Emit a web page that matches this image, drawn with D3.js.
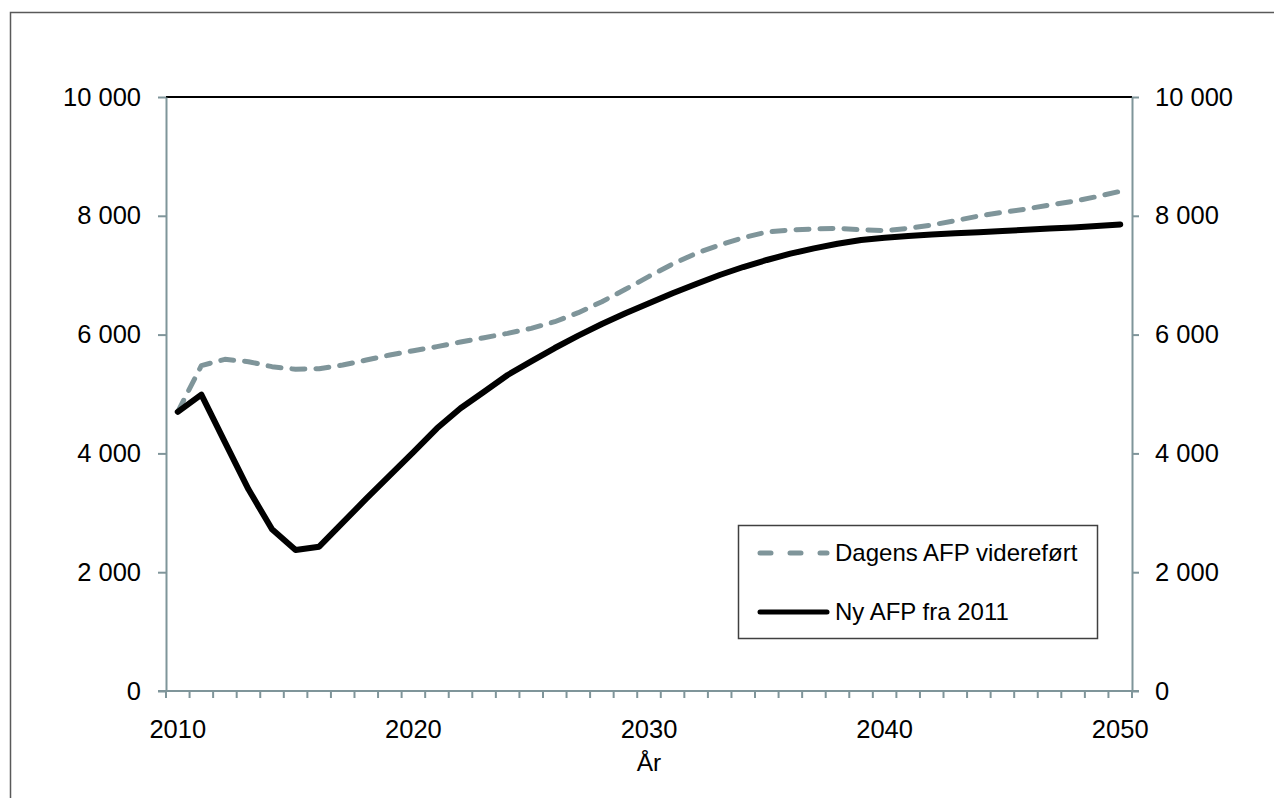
<!DOCTYPE html>
<html>
<head>
<meta charset="utf-8">
<script src="https://cdn.jsdelivr.net/npm/d3@7"></script>
<style>
    body { margin: 0; background: #fff; }
    text { font-family: "Liberation Sans", Arial, sans-serif; fill: #000; }
</style>
</head>
<body>
<div id="chart"></div>
<script>
// categories (one per year)
var years = d3.range(2010, 2051);

// Dagens AFP videreført (grey dashed)
var dagensAfp = [4700, 5477, 5584, 5544, 5460, 5416, 5426, 5488, 5572, 5657,
    5728, 5797, 5875, 5948, 6021, 6105, 6217, 6369, 6554, 6762,
    6980, 7188, 7368, 7508, 7632, 7727, 7761, 7778, 7789, 7765,
    7750, 7789, 7845, 7918, 7997, 8058, 8114, 8182, 8244, 8322,
    8412];

// Ny AFP fra 2011 (black)
var nyAfp = [4700, 4990, 4190, 3395, 2722, 2374, 2430, 2833, 3238, 3631,
    4020, 4422, 4759, 5039, 5320, 5550, 5774, 5982, 6178, 6358,
    6526, 6695, 6852, 7003, 7138, 7256, 7362, 7452, 7530, 7593,
    7630, 7660, 7685, 7705, 7725, 7745, 7765, 7785, 7805, 7830,
    7855];

var seriesNames = ["Dagens AFP videreført", "Ny AFP fra 2011"];
var xTickLabels = [2010, 2020, 2030, 2040, 2050];
var yTicks = [0, 2000, 4000, 6000, 8000, 10000];
var xTitle = "År";

var W = 1274, H = 798;
var margin = { top: 97, right: 142, bottom: 107, left: 166 };
var axisColor = "#7f959a";

var svg = d3.select("#chart").append("svg")
    .attr("width", W)
    .attr("height", H);

// outer frame of the chart object
svg.append("rect")
    .attr("x", 10.5).attr("y", 12.5)
    .attr("width", W + 20).attr("height", H + 20)
    .attr("fill", "none")
    .attr("stroke", "#595959")
    .attr("stroke-width", 1.5);

// scales
var x = d3.scaleBand()
    .domain(years)
    .range([margin.left, W - margin.right])
    .paddingInner(0).paddingOuter(0);

var y = d3.scaleLinear()
    .domain([0, 10000])
    .range([H - margin.bottom, margin.top]);

function cx(yr) { return x(yr) + x.bandwidth() / 2; }
var fmt = function (d) { return d3.format(",")(d).replace(/,/g, " "); };

var x0 = x.range()[0], x1 = x.range()[1];
var y0 = y.range()[0], y1 = y.range()[1];

// top border of plot area
svg.append("line")
    .attr("x1", x0).attr("x2", x1)
    .attr("y1", y1).attr("y2", y1)
    .attr("stroke", "#000")
    .attr("stroke-width", 2);

// left y axis
var gL = svg.append("g")
    .attr("transform", "translate(" + x0 + ",0)")
    .call(d3.axisLeft(y).tickValues(yTicks).tickFormat(fmt)
        .tickSize(8).tickSizeOuter(0).tickPadding(17));

// right y axis
var gR = svg.append("g")
    .attr("transform", "translate(" + x1 + ",0)")
    .call(d3.axisRight(y).tickValues(yTicks).tickFormat(fmt)
        .tickSize(7).tickSizeOuter(0).tickPadding(16));

[gL, gR].forEach(function (g) {
    g.select(".domain").attr("stroke", axisColor).attr("stroke-width", 2);
    g.selectAll(".tick line").attr("stroke", axisColor).attr("stroke-width", 2);
    g.selectAll("text").style("font-size", "25.5px").attr("fill", "#000");
});

// x axis: line, tick marks between categories, labels every 10 years
var boundaries = years.map(function (d) { return x(d); }).concat([x1]);

svg.append("line")
    .attr("x1", x0 - 8).attr("x2", x1 + 7)
    .attr("y1", y0).attr("y2", y0)
    .attr("stroke", axisColor)
    .attr("stroke-width", 2);

svg.selectAll(".xtick")
    .data(boundaries).enter()
    .append("line")
    .attr("class", "xtick")
    .attr("x1", function (d) { return d; })
    .attr("x2", function (d) { return d; })
    .attr("y1", y0).attr("y2", y0 + 7)
    .attr("stroke", axisColor)
    .attr("stroke-width", 2);

var gX = svg.append("g")
    .attr("transform", "translate(0," + y0 + ")")
    .call(d3.axisBottom(x).tickValues(xTickLabels).tickSize(0).tickPadding(29));
gX.select(".domain").remove();
gX.selectAll("text").style("font-size", "25.5px").attr("fill", "#000");

// axis title
svg.append("text")
    .attr("x", (x0 + x1) / 2)
    .attr("y", 771)
    .attr("text-anchor", "middle")
    .style("font-size", "24.5px")
    .text(xTitle);

// lines
var line = d3.line()
    .x(function (d, i) { return cx(years[i]); })
    .y(function (d) { return y(d); });

svg.append("path")
    .datum(dagensAfp)
    .attr("d", line)
    .attr("fill", "none")
    .attr("stroke", axisColor)
    .attr("stroke-width", 5)
    .attr("stroke-linecap", "round")
    .attr("stroke-linejoin", "round")
    .attr("stroke-dasharray", "13,11");

svg.append("path")
    .datum(nyAfp)
    .attr("d", line)
    .attr("fill", "none")
    .attr("stroke", "#000")
    .attr("stroke-width", 6)
    .attr("stroke-linecap", "round")
    .attr("stroke-linejoin", "round");

// legend
var lg = svg.append("g").attr("transform", "translate(738,525)");
lg.append("rect")
    .attr("x", 0.5).attr("y", 0.5)
    .attr("width", 359).attr("height", 113)
    .attr("fill", "#fff")
    .attr("stroke", "#404040")
    .attr("stroke-width", 1.5);

var legendItems = [
    { name: seriesNames[0], color: axisColor, width: 5, dash: "11,19", yy: 28 },
    { name: seriesNames[1], color: "#000", width: 5, dash: null, yy: 87 }
];
legendItems.forEach(function (d) {
    lg.append("line")
        .attr("x1", 22).attr("x2", 89)
        .attr("y1", d.yy).attr("y2", d.yy)
        .attr("stroke", d.color)
        .attr("stroke-width", d.width)
        .attr("stroke-linecap", "round")
        .attr("stroke-dasharray", d.dash);
    lg.append("text")
        .attr("x", 97)
        .attr("y", d.yy)
        .attr("dy", "0.35em")
        .style("font-size", "24px")
        .text(d.name);
});
</script>
</body>
</html>
